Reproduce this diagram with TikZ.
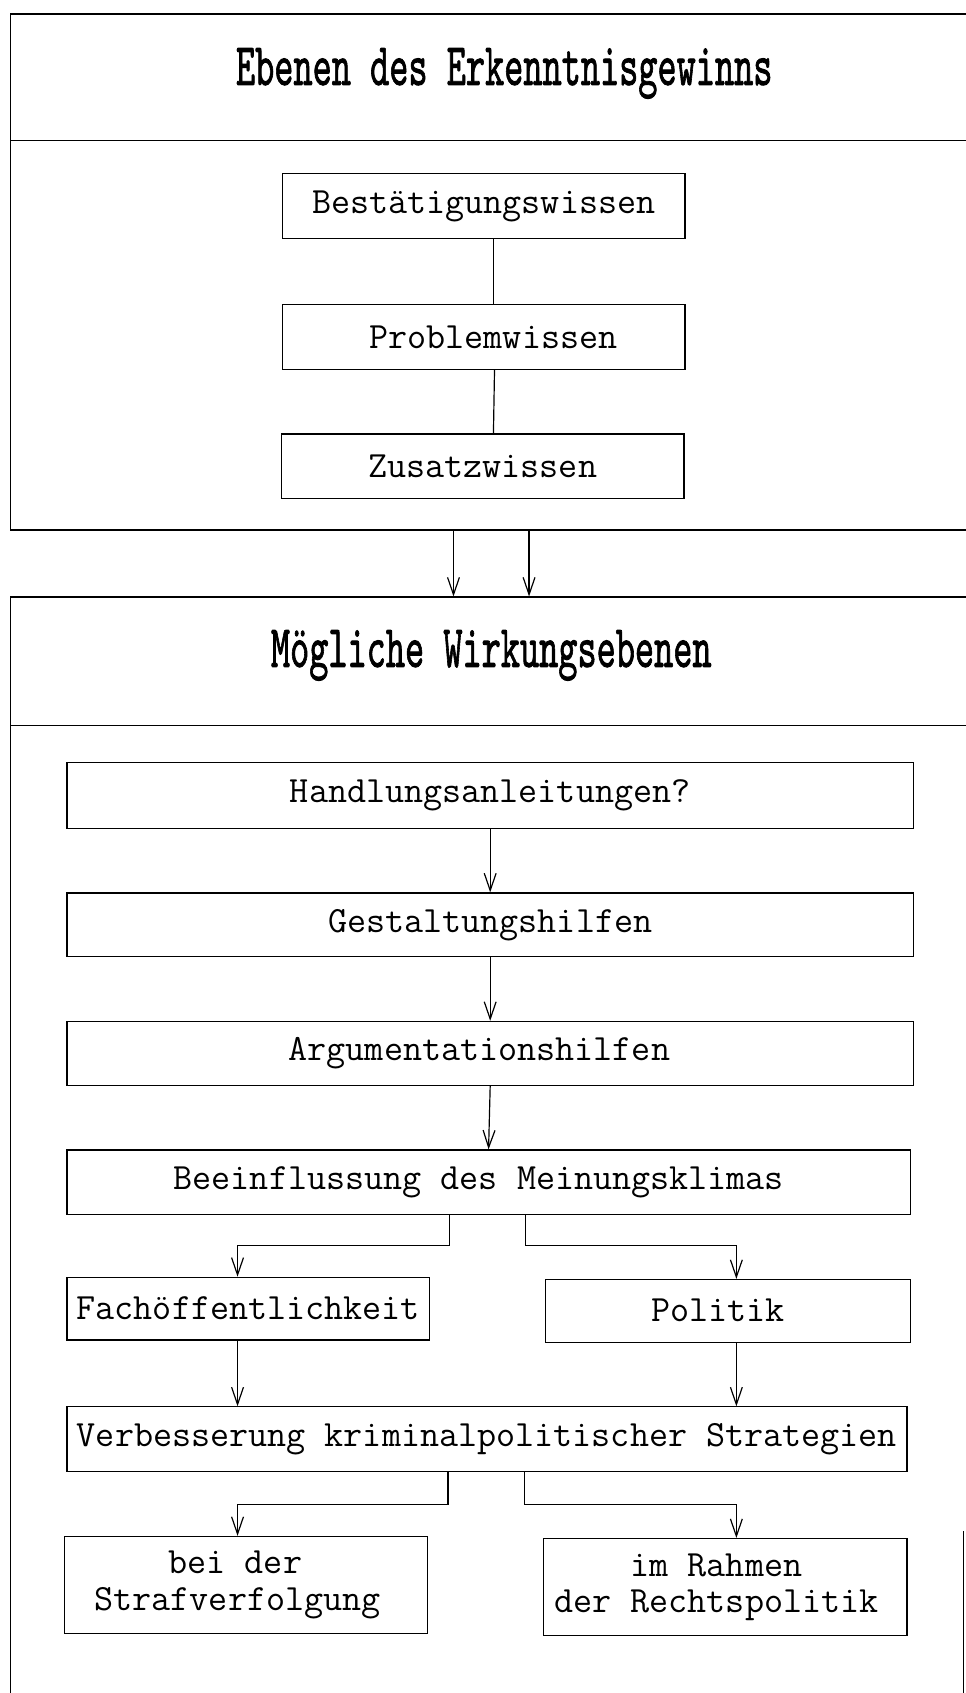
\documentclass[tikz,border=0pt]{standalone}
\usepackage{fontspec}
\usepackage{graphicx}
\newfontfamily\titlefnt{lmmono10-regular}[Extension=.otf, AutoFakeBold=1.6]
\usetikzlibrary{arrows.meta}
\tikzset{
  boxstyle/.style={draw, line width=1.1pt, inner sep=0pt, align=center,
    font=\ttfamily\fontsize{34.3}{34}\selectfont},
  framestyle/.style={draw, line width=1.2pt, inner sep=0pt},
  titlestyle/.style={inner sep=0pt, font=\titlefnt\bfseries\fontsize{33.8}{34}\selectfont},
  conn/.style={line width=1.1pt},
  arr/.style={line width=1.1pt, -{Straight Barb[length=16pt,width=11pt,line width=1.1pt]}}
}
\newcommand{\shl}[1]{\hspace*{#1pt}}
\begin{document}
\begin{tikzpicture}[x=1pt,y=-1pt]
\useasboundingbox (0,0) rectangle (894,1568);
\fill[white] (0,0) rectangle (894,1568);

% frames
\node[framestyle, minimum width=890pt, minimum height=478pt] (F1) at (455,252) {};
\draw[line width=1.2pt] (10,130) -- (900,130);
\node[titlestyle] (T1) at (467,68) {\scalebox{1}[1.65]{Ebenen des Erkenntnisgewinns}};

\node[framestyle, minimum width=890pt, minimum height=1027pt] (F2) at (455,1066.5) {};
\draw[line width=1.2pt] (10,672) -- (900,672);
\node[titlestyle] (T2) at (455,607) {\scalebox{1}[1.65]{Mögliche Wirkungsebenen}};
\draw[line width=0.8pt] (892.5,1418) -- (892.5,1568);

% top boxes
\node[boxstyle, minimum width=373pt, minimum height=60pt] (b1) at (448,191) {Bestätigungswissen};
\node[boxstyle, minimum width=373pt, minimum height=60pt] (b2) at (448,312) {\shl{18}Problemwissen};
\node[boxstyle, minimum width=373pt, minimum height=60pt] (b3) at (447,432) {Zusatzwissen};
\draw[conn] ([xshift=9pt]b1.south) -- ([xshift=9pt]b2.north);
\draw[conn] ([xshift=10pt]b2.south) -- ([xshift=10pt]b3.north);

% arrows between frames
\draw[arr] ([xshift=-35pt]F1.south) -- ([xshift=-35pt]F2.north);
\draw[arr] ([xshift=35pt]F1.south) -- ([xshift=35pt]F2.north);

% lower boxes
\node[boxstyle, minimum width=784pt, minimum height=61pt] (h1) at (454,736.5) {Handlungsanleitungen?};
\node[boxstyle, minimum width=784pt, minimum height=59pt] (h2) at (454,856.5) {Gestaltungshilfen};
\node[boxstyle, minimum width=784pt, minimum height=59pt] (h3) at (454,975.5) {Argumentationshilfen\shl{20}};
\node[boxstyle, minimum width=781pt, minimum height=60pt] (h4) at (452.5,1095) {Beeinflussung des Meinungsklimas\shl{18}};
\draw[arr] (h1.south) -- (h2.north);
\draw[arr] (h2.south) -- (h3.north);
\draw[arr] (h3.south) -- (h4.north);

\node[boxstyle, minimum width=336pt, minimum height=58pt] (fach) at (230,1212) {Fachöffentlichkeit};
\node[boxstyle, minimum width=338pt, minimum height=58pt] (pol) at (674,1214) {Politik\shl{18}};
\draw[arr] ([xshift=-36.5pt]h4.south) -- ++(0,28) -| ([xshift=-10pt]fach.north);
\draw[arr] ([xshift=34.5pt]h4.south) -- ++(0,28) -| ([xshift=8pt]pol.north);

\node[boxstyle, minimum width=778pt, minimum height=60pt] (verb) at (451,1333) {Verbesserung kriminalpolitischer Strategien};
\draw[arr] ([xshift=-10pt]fach.south) -- ([xshift=-10pt]fach.south |- verb.north);
\draw[arr] ([xshift=8pt]pol.south) -- ([xshift=8pt]pol.south |- verb.north);

\node[boxstyle, minimum width=336pt, minimum height=90pt] (s1) at (228,1468) {bei der\shl{20}\\Strafverfolgung\shl{16}};
\node[boxstyle, minimum width=337pt, minimum height=90pt] (s2) at (671.5,1470) {im Rahmen\shl{16}\\der Rechtspolitik\shl{16}};
\draw[arr] ([xshift=-36pt]verb.south) -- ++(0,30) -| ([xshift=-8pt]s1.north);
\draw[arr] ([xshift=35pt]verb.south) -- ++(0,30) -| ([xshift=10.5pt]s2.north);
\end{tikzpicture}
\end{document}
